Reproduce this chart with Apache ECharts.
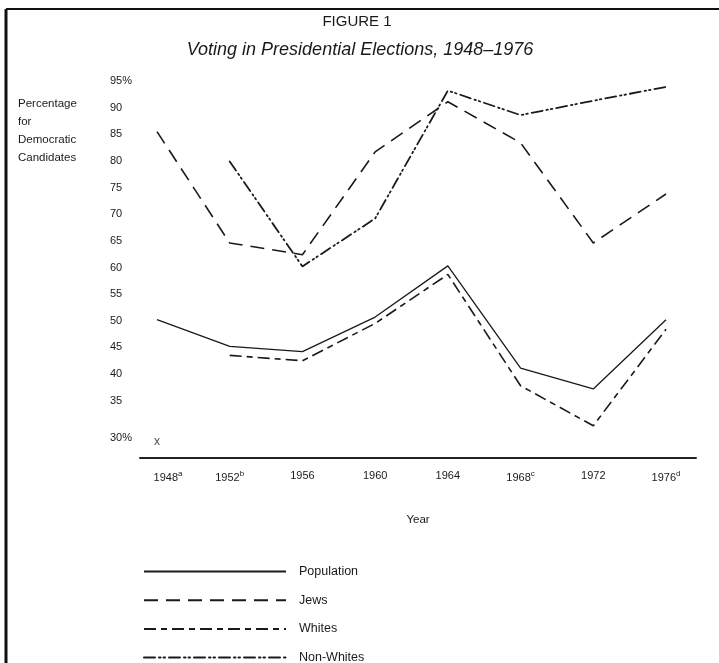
<!DOCTYPE html>
<html>
<head>
<meta charset="utf-8">
<script src="https://cdn.jsdelivr.net/npm/echarts@6/dist/echarts.min.js"></script>
<style>html,body{margin:0;padding:0;background:#fff}#c{width:719px;height:663px}</style>
</head>
<body>
<div id="c"></div>
<script>
var years = [1948, 1952, 1956, 1960, 1964, 1968, 1972, 1976];
var yearLabels = ['{first|1948}{sup|a}', '1952{sup|b}', '1956', '1960', '1964', '1968{sup|c}', '1972', '1976{sup|d}'];
var population = [50.2, 45.2, 44.2, 50.7, 60.3, 41.1, 37.2, 50.2];
var jews = [85.5, 64.6, 62.4, 81.7, 91.1, 83.4, 64.6, 73.8];
var whites = [null, 43.5, 42.5, 49.5, 58.7, 37.8, 30.3, 48.4];
var nonWhites = [null, 79.9, 60.2, 69.2, 93.2, 88.6, 91.3, 93.9];
var yTicks = [30, 35, 40, 45, 50, 55, 60, 65, 70, 75, 80, 85, 90, 95];
var noteMark = [[1948, 27.3]];

function pairs(vals) {
  var out = [];
  for (var i = 0; i < years.length; i++) {
    if (vals[i] !== null) out.push([years[i], vals[i]]);
  }
  return out;
}

var ink = '#1a1a1a';
var font = 'Liberation Sans, Arial, sans-serif';

var chart = echarts.init(document.getElementById('c'));
chart.setOption({
  backgroundColor: '#fff',
  animation: false,
  textStyle: { fontFamily: font, color: ink },
  title: [
    { text: 'FIGURE 1', left: 352, top: 9, textAlign: 'center',
      textStyle: { fontSize: 15, fontWeight: 'normal', color: ink, fontFamily: font } },
    { text: 'Voting in Presidential Elections, 1948\u20131976', left: 355, top: 36, textAlign: 'center',
      textStyle: { fontSize: 18, fontStyle: 'italic', fontWeight: 'normal', color: ink, fontFamily: font } },
    { text: 'Percentage\nfor\nDemocratic\nCandidates', left: 13, top: 90,
      textStyle: { fontSize: 11.5, fontWeight: 'normal', color: ink, lineHeight: 18, fontFamily: font } }
  ],
  graphic: [
    { type: 'line', shape: { x1: 6, y1: 9, x2: 719, y2: 9 }, style: { stroke: '#111', lineWidth: 2 } },
    { type: 'line', shape: { x1: 6, y1: 9, x2: 6, y2: 663 }, style: { stroke: '#111', lineWidth: 3 } }
  ],
  legend: {
    orient: 'vertical', left: 143, top: 565, padding: 0, height: 140,
    itemWidth: 142, itemHeight: 14, itemGap: 15.7,
    itemStyle: { opacity: 0, borderWidth: 0 },
    textStyle: { fontSize: 12.5, color: ink, fontFamily: font, padding: [0, 0, 0, 8] },
    data: ['Population', 'Jews', 'Whites', 'Non-Whites']
  },
  grid: { left: 140, right: 23, top: 81, bottom: 209 },
  xAxis: {
    type: 'value', min: 1947.065, max: 1977.65,
    name: 'Year', nameLocation: 'middle', nameGap: 56,
    nameTextStyle: { fontSize: 11.5, color: ink, fontFamily: font },
    offset: 4,
    axisLine: { show: true, lineStyle: { color: '#222', width: 2 } },
    axisTick: { show: false },
    splitLine: { show: false },
    axisLabel: {
      customValues: years,
      margin: 12,
      fontSize: 11, color: ink, fontFamily: font,
      formatter: function (v) { return yearLabels[years.indexOf(v)] || ''; },
      rich: {
        sup: { fontSize: 8, padding: [0, 0, 7, 0], color: ink, fontFamily: font },
        first: { fontSize: 11, padding: [0, 0, 0, 22], color: ink, fontFamily: font }
      }
    }
  },
  yAxis: {
    type: 'value', min: 25, max: 95, interval: 5,
    axisLine: { show: false }, axisTick: { show: false }, splitLine: { show: false },
    axisLabel: {
      align: 'left', margin: 30, fontSize: 11, color: ink, fontFamily: font,
      formatter: function (v) {
        if (yTicks.indexOf(v) < 0) return '';
        if (v === 95) return '95%';
        if (v === 30) return '{low|30%}';
        return String(v);
      },
      rich: { low: { fontSize: 11, padding: [22, 0, 0, 0], color: ink, fontFamily: font } }
    }
  },
  series: [
    { name: 'Population', type: 'line', data: pairs(population), symbol: 'none',
      lineStyle: { color: ink, width: 1.3, type: 'solid' }, itemStyle: { color: ink } },
    { name: 'Jews', type: 'line', data: pairs(jews), symbol: 'none',
      lineStyle: { color: ink, width: 1.6, type: [14, 8] }, itemStyle: { color: ink } },
    { name: 'Whites', type: 'line', data: pairs(whites), symbol: 'none',
      lineStyle: { color: ink, width: 1.6, type: [12, 5, 6, 5] }, itemStyle: { color: ink } },
    { name: 'Non-Whites', type: 'line', data: pairs(nonWhites), symbol: 'none',
      lineStyle: { color: ink, width: 1.8, type: [11, 4, 1.5, 3, 1.5, 4], cap: 'round' }, itemStyle: { color: ink } },
    { name: 'note', type: 'scatter', data: noteMark, symbolSize: 0, silent: true,
      label: { show: true, formatter: 'x', position: 'inside', fontSize: 12, color: ink, fontFamily: font } }
  ]
});
</script>
</body>
</html>
